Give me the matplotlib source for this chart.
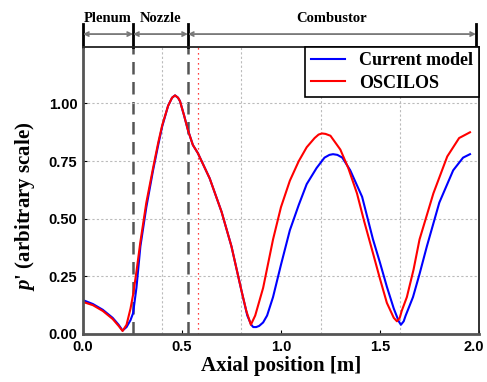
import matplotlib
matplotlib.use("Agg")
from matplotlib import pyplot as plt
import matplotlib.transforms as mtransforms
import numpy as np

# values
x_blue = [0, 0.05, 0.10, 0.15, 0.18, 0.20, 0.22, 0.24, 0.253, 0.27, 0.29, 0.32, 0.354, 0.38,
          0.40, 0.43, 0.45, 0.465, 0.48, 0.49, 0.51, 0.53, 0.555, 0.58, 0.64, 0.70, 0.75, 0.80,
          0.83, 0.85, 0.86, 0.875, 0.89, 0.91, 0.93, 0.96, 1.00, 1.045, 1.09, 1.13, 1.18, 1.22,
          1.245, 1.263, 1.285, 1.31, 1.35, 1.41, 1.465, 1.50, 1.535, 1.57, 1.595, 1.606, 1.62,
          1.63, 1.667, 1.70, 1.737, 1.80, 1.87, 1.92, 1.955]
y_blue = [0.147, 0.13, 0.105, 0.07, 0.04, 0.015, 0.03, 0.06, 0.09, 0.2, 0.38, 0.55, 0.71, 0.82,
          0.90, 0.99, 1.025, 1.035, 1.025, 1.01, 0.95, 0.885, 0.82, 0.785, 0.675, 0.53, 0.38, 0.19,
          0.08, 0.04, 0.03, 0.03, 0.035, 0.05, 0.08, 0.16, 0.30, 0.45, 0.56, 0.65, 0.72, 0.765,
          0.777, 0.78, 0.777, 0.765, 0.71, 0.595, 0.41, 0.31, 0.205, 0.11, 0.055, 0.04, 0.055,
          0.08, 0.16, 0.26, 0.38, 0.57, 0.71, 0.765, 0.78]

x_red = [0, 0.05, 0.10, 0.15, 0.18, 0.20, 0.22, 0.24, 0.253, 0.27, 0.29, 0.32, 0.354, 0.38,
         0.40, 0.43, 0.45, 0.465, 0.48, 0.49, 0.51, 0.53, 0.555, 0.58, 0.64, 0.70, 0.75, 0.80,
         0.825, 0.848, 0.87, 0.91, 0.96, 1.00, 1.045, 1.09, 1.13, 1.17, 1.19, 1.207, 1.225, 1.25,
         1.30, 1.34, 1.384, 1.42, 1.465, 1.50, 1.535, 1.57, 1.586, 1.60, 1.61, 1.636, 1.67, 1.70,
         1.77, 1.84, 1.90, 1.955]
y_red = [0.139, 0.125, 0.10, 0.065, 0.035, 0.013, 0.04, 0.11, 0.17, 0.27, 0.40, 0.57, 0.72, 0.83,
         0.905, 0.99, 1.025, 1.035, 1.025, 1.01, 0.95, 0.885, 0.82, 0.785, 0.675, 0.53, 0.38, 0.19,
         0.10, 0.04, 0.08, 0.20, 0.41, 0.55, 0.665, 0.75, 0.81, 0.85, 0.865, 0.87, 0.868, 0.86,
         0.80, 0.72, 0.61, 0.49, 0.35, 0.24, 0.135, 0.07, 0.055, 0.07, 0.10, 0.16, 0.28, 0.41,
         0.61, 0.77, 0.85, 0.875]

sections = ["Plenum", "Nozzle", "Combustor"]
section_edges = [0, 0.253, 0.53, 1.985]
flame_pos = 0.58

x_ticks = [0, 0.5, 1.0, 1.5, 2.0]
y_ticks = [0, 0.25, 0.5, 0.75, 1.0]

plt.rcParams["mathtext.fontset"] = "custom"
plt.rcParams["mathtext.it"] = "Liberation Serif:italic:bold"
plt.rcParams["mathtext.rm"] = "Liberation Serif:bold"

fig = plt.figure(figsize=(4.87, 3.82), dpi=100)
ax = fig.add_axes([0.1704, 0.1257, 0.813, 0.7513])

ax.plot(x_blue, y_blue, color="blue", lw=1.5, label="Current model")
ax.plot(x_red, y_red, color="red", lw=1.5, label="OSCILOS")

for xe in section_edges[1:3]:
    ax.axvline(xe, color="#555555", ls=(0, (5, 3)), lw=1.8, zorder=1)
ax.axvline(flame_pos, color="red", ls=(0, (1, 3)), lw=0.9, zorder=1)

ax.set_xlim(0, 2)
ax.set_ylim(0, 1.245)
ax.set_xticks(x_ticks)
ax.set_xticklabels(["%.1f" % v for v in x_ticks])
ax.set_yticks(y_ticks)
ax.set_yticklabels(["%.2f" % v for v in y_ticks])
ax.set_xticks(np.arange(0.4, 2.0, 0.4), minor=True)
ax.grid(True, which="minor", axis="x", color="#bbbbbb", ls=(0, (2, 2)), lw=0.8)
ax.grid(True, which="major", axis="y", color="#bbbbbb", ls=(0, (2, 2)), lw=0.8)
ax.tick_params(which="minor", length=0)
ax.tick_params(which="major", direction="in", length=3, pad=4)
for lab in ax.get_xticklabels() + ax.get_yticklabels():
    lab.set_fontfamily("Liberation Sans")
    lab.set_fontweight("bold")
    lab.set_fontsize(10.5)
# last x label sits right at the figure edge, nudge it in a little
last = ax.get_xticklabels()[-1]
last.set_transform(last.get_transform() + mtransforms.ScaledTranslation(-5 / 100, 0, fig.dpi_scale_trans))
for s in ax.spines.values():
    s.set_linewidth(1.3)
    s.set_color("#222222")
ax.spines["left"].set_color("#555555")
ax.spines["bottom"].set_color("#555555")
ax.spines["left"].set_linewidth(2)
ax.spines["bottom"].set_linewidth(2)

ax.set_xlabel("Axial position [m]", fontfamily="Liberation Serif", fontweight="bold",
              fontsize=15, labelpad=2)
fig.text(0.052, 0.46, r"$\mathit{p}$' (arbitrary scale)", rotation=90, ha="center",
         va="center", fontfamily="Liberation Serif", fontweight="bold", fontsize=15)

# section markers above the axes
trans = mtransforms.blended_transform_factory(ax.transData, ax.transAxes)
for xe in section_edges:
    ax.plot([xe, xe], [1.0, 1.08], color="black", lw=2, transform=trans, clip_on=False)
for i, name in enumerate(sections):
    a, b = section_edges[i], section_edges[i + 1]
    ax.annotate("", xy=(a, 1.045), xytext=(b, 1.045), xycoords=trans, textcoords=trans,
                arrowprops=dict(arrowstyle="<->", color="#777777", lw=1.3,
                                shrinkA=0, shrinkB=0, mutation_scale=7))
    ax.text((a + b) / 2, 1.1, name, transform=trans, ha="center", va="center",
            fontfamily="Liberation Serif", fontweight="bold", fontsize=10.5)

leg = ax.legend(loc="upper right", borderaxespad=0, fancybox=False, framealpha=1,
                edgecolor="black", handlelength=1.9, borderpad=0.3, labelspacing=0.3,
                prop={"family": "Liberation Serif", "weight": "bold", "size": 13})
leg.get_frame().set_linewidth(1.2)

fig.savefig("out.png", dpi=100)
